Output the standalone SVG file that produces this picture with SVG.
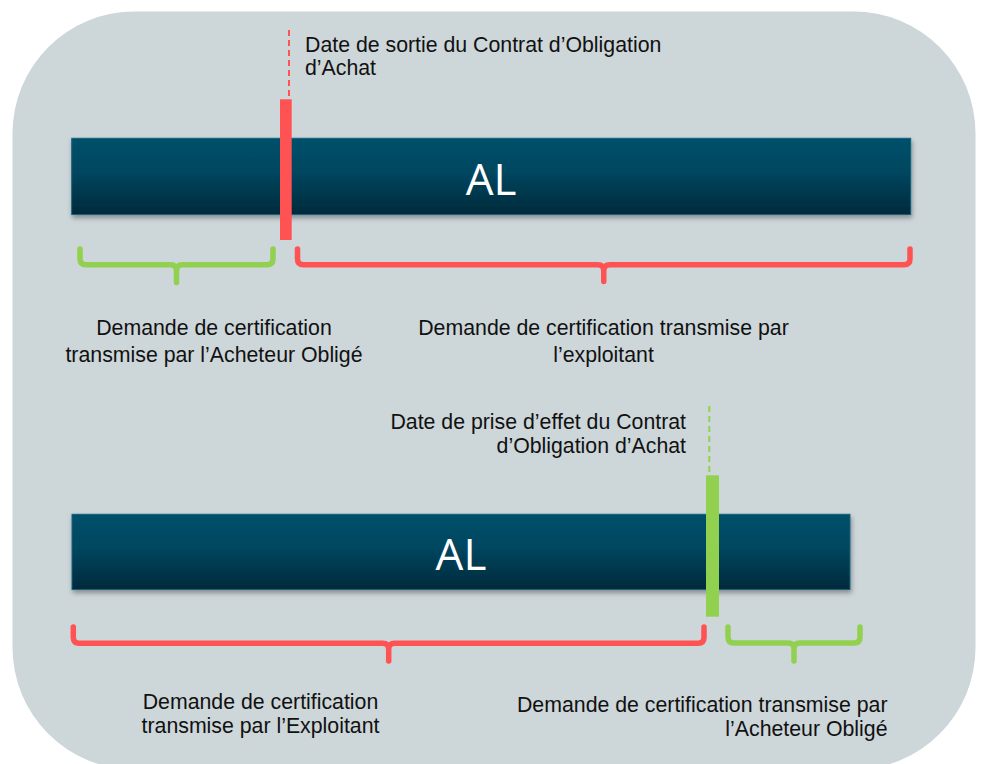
<svg xmlns="http://www.w3.org/2000/svg" width="981" height="764" viewBox="0 0 981 764">
  <defs>
    <linearGradient id="barGrad" x1="0" y1="0" x2="0" y2="1">
      <stop offset="0" stop-color="#05506B"/>
      <stop offset="0.45" stop-color="#04465F"/>
      <stop offset="1" stop-color="#012A3B"/>
    </linearGradient>
    <filter id="shadow" x="-5%" y="-20%" width="110%" height="150%">
      <feDropShadow dx="1" dy="3" stdDeviation="2.5" flood-color="#000" flood-opacity="0.35"/>
    </filter>
    <style>
      .lbl { font-family: "Liberation Sans", Arial, sans-serif; font-size: 21.3px; fill: #111; }
      .al { font-family: "Open Sans", "Liberation Sans", sans-serif; font-size: 44px; fill: #fff; text-anchor: middle; }
      .bar { fill: url(#barGrad); stroke: #16627D; stroke-width: 1; filter: url(#shadow); }
      .brace { fill: none; stroke-width: 5.5; stroke-linecap: round; stroke-linejoin: round; }
      .red { stroke: #FF5252; }
      .green { stroke: #92D050; }
      .dash { fill: none; stroke-width: 2; stroke-dasharray: 6 4; }
    </style>
  </defs>

  <g id="background">
    <rect x="12.5" y="11.5" width="963" height="758" rx="122" ry="122" fill="#CDD6D9"/>
  </g>

  <g id="bar-top">
    <rect class="bar" x="71.7" y="138.3" width="839" height="76.2"/>
    <text class="al" x="491.2" y="195">AL</text>
  </g>

  <g id="bar-bottom">
    <rect class="bar" x="72" y="514.3" width="778" height="75.2"/>
    <text class="al" x="461" y="570">AL</text>
  </g>

  <g id="connectors">
    <line class="dash red" x1="289" y1="30" x2="289" y2="99"/>
    <line class="dash green" x1="709.3" y1="406" x2="709.3" y2="475"/>
  </g>

  <g id="marker-top">
    <rect x="280" y="99.3" width="11.7" height="140.7" fill="#FF5252"/>
  </g>

  <g id="marker-bottom">
    <rect x="706" y="475.3" width="13" height="141.4" fill="#92D050"/>
  </g>

  <g id="brace-top-green">
    <path class="brace green" d="M80,249 V258.7 Q80,264.7 86,264.7 H170.5 Q176.5,264.7 176.5,270.7 V282.5 M176.5,270.7 Q176.5,264.7 182.5,264.7 H267 Q273,264.7 273,258.7 V249"/>
  </g>
  <g id="brace-top-red">
    <path class="brace red" d="M297.5,249 V258.7 Q297.5,264.7 303.5,264.7 H597.75 Q603.75,264.7 603.75,270.7 V281.5 M603.75,270.7 Q603.75,264.7 609.75,264.7 H904 Q910,264.7 910,258.7 V249"/>
  </g>
  <g id="brace-bottom-red">
    <path class="brace red" d="M73.3,627 V637.3 Q73.3,643.3 79.3,643.3 H382.7 Q388.7,643.3 388.7,649.3 V661 M388.7,649.3 Q388.7,643.3 394.7,643.3 H698 Q704,643.3 704,637.3 V627"/>
  </g>
  <g id="brace-bottom-green">
    <path class="brace green" d="M728,627 V637 Q728,643 734,643 H788 Q794,643 794,649 V661 M794,649 Q794,643 800,643 H854 Q860,643 860,637 V627"/>
  </g>

  <g id="label-date-sortie">
    <text class="lbl" x="305" y="52.3">Date de sortie du Contrat d’Obligation</text>
    <text class="lbl" x="305" y="75">d’Achat</text>
  </g>

  <g id="label-top-left">
    <text class="lbl" x="214" y="334.5" text-anchor="middle">Demande de certification</text>
    <text class="lbl" x="214" y="361.5" text-anchor="middle">transmise par l’Acheteur Obligé</text>
  </g>

  <g id="label-top-right">
    <text class="lbl" x="603.5" y="334.5" text-anchor="middle">Demande de certification transmise par</text>
    <text class="lbl" x="603.5" y="361.5" text-anchor="middle">l’exploitant</text>
  </g>

  <g id="label-date-effet">
    <text class="lbl" x="686" y="429.3" text-anchor="end">Date de prise d’effet du Contrat</text>
    <text class="lbl" x="686" y="453.3" text-anchor="end">d’Obligation d’Achat</text>
  </g>

  <g id="label-bottom-left">
    <text class="lbl" x="260.5" y="709.3" text-anchor="middle">Demande de certification</text>
    <text class="lbl" x="260.5" y="733.3" text-anchor="middle">transmise par l’Exploitant</text>
  </g>

  <g id="label-bottom-right">
    <text class="lbl" x="887.5" y="711.7" text-anchor="end">Demande de certification transmise par</text>
    <text class="lbl" x="887.5" y="736" text-anchor="end">l’Acheteur Obligé</text>
  </g>
</svg>
